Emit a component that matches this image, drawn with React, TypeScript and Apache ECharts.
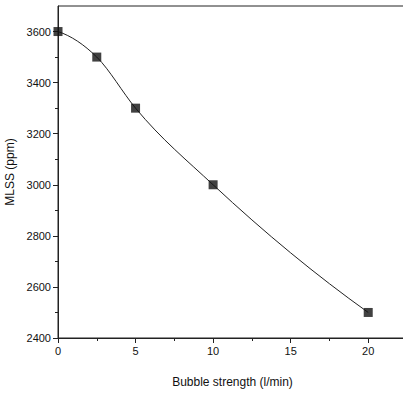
import React, { useEffect, useRef } from "react";
import * as echarts from "echarts";

const bubbleStrength = [0, 2.5, 5, 10, 20];
const mlss = [3600, 3500, 3300, 3000, 2500];
const xTicks = [0, 5, 10, 15, 20];
const yTicks = [2400, 2600, 2800, 3000, 3200, 3400, 3600];

function tangents(xs: number[], ys: number[]): number[] {
  const n = xs.length;
  const h: number[] = [];
  const d: number[] = [];
  for (let i = 0; i < n - 1; i++) {
    h.push(xs[i + 1] - xs[i]);
    d.push((ys[i + 1] - ys[i]) / h[i]);
  }
  const m: number[] = new Array(n);
  m[0] = ((2 * h[0] + h[1]) * d[0] - h[0] * d[1]) / (h[0] + h[1]);
  for (let i = 1; i < n - 1; i++) {
    m[i] = (d[i - 1] * h[i] + d[i] * h[i - 1]) / (h[i - 1] + h[i]);
  }
  const k = n - 2;
  m[n - 1] = ((2 * h[k] + h[k - 1]) * d[k] - h[k] * d[k - 1]) / (h[k - 1] + h[k]);
  return m;
}

export default function App() {
  const ref = useRef<HTMLDivElement>(null);
  useEffect(() => {
    if (!ref.current) return;
    const chart = echarts.init(ref.current, null, { renderer: "svg" });
    const pts = bubbleStrength.map((x, i) => [x, mlss[i]]);
    const m = tangents(bubbleStrength, mlss);
    const font = "'Liberation Sans', Arial, sans-serif";
    chart.setOption({
      animation: false,
      backgroundColor: "#fff",
      grid: {
        left: 58, top: 6, right: -4, bottom: 56,
        containLabel: false, outerBoundsMode: "none",
        show: true, borderColor: "#222", borderWidth: 1,
      },
      xAxis: {
        type: "value",
        min: 0,
        max: 22.5,
        interval: 5,
        name: "Bubble strength (l/min)",
        nameLocation: "middle",
        nameGap: 38,
        nameTextStyle: { fontFamily: font, fontSize: 12, color: "#111", letterSpacing: -0.6 },
        axisLine: { lineStyle: { color: "#222", width: 1 } },
        axisTick: { show: true, inside: false, length: 5, lineStyle: { color: "#222" }, customValues: xTicks },
        minorTick: { show: true, splitNumber: 2, length: 3, lineStyle: { color: "#222" } },
        axisLabel: { fontFamily: font, fontSize: 11, color: "#111", margin: 7, customValues: xTicks, formatter: (v: number) => String(v) },
        splitLine: { show: false },
      },
      yAxis: {
        type: "value",
        min: 2400,
        max: 3700,
        interval: 200,
        name: "MLSS (ppm)",
        nameLocation: "middle",
        nameGap: 34,
        nameTextStyle: { fontFamily: font, fontSize: 12, color: "#111", letterSpacing: -0.6 },
        axisLine: { show: true, lineStyle: { color: "#222", width: 1 } },
        axisTick: { show: true, inside: false, length: 5, lineStyle: { color: "#222" }, customValues: yTicks },
        minorTick: { show: true, splitNumber: 2, length: 3, lineStyle: { color: "#222" } },
        axisLabel: { fontFamily: font, fontSize: 11, color: "#111", margin: 7, customValues: yTicks, letterSpacing: -0.5, formatter: (v: number) => String(v) },
        splitLine: { show: false },
      },
      series: [
        {
          type: "custom",
          data: pts,
          encode: { x: 0, y: 1 },
          z: 2,
          renderItem: (params: any, api: any) => {
            const i = params.dataIndex;
            if (i >= pts.length - 1) return null;
            const x0 = bubbleStrength[i], y0 = mlss[i];
            const x1 = bubbleStrength[i + 1], y1 = mlss[i + 1];
            const h = x1 - x0;
            const p0 = api.coord([x0, y0]);
            const c1 = api.coord([x0 + h / 3, y0 + (m[i] * h) / 3]);
            const c2 = api.coord([x1 - h / 3, y1 - (m[i + 1] * h) / 3]);
            const p1 = api.coord([x1, y1]);
            return {
              type: "bezierCurve",
              shape: { x1: p0[0], y1: p0[1], cpx1: c1[0], cpy1: c1[1], cpx2: c2[0], cpy2: c2[1], x2: p1[0], y2: p1[1] },
              style: { stroke: "#222", lineWidth: 1, fill: "none" },
            };
          },
        },
        {
          type: "scatter",
          data: pts,
          symbol: "rect",
          symbolSize: 9,
          itemStyle: { color: "#111" },
          z: 3,
        },
      ],
    });
    return () => chart.dispose();
  }, []);
  return <div ref={ref} style={{ position: "fixed", left: 0, top: 0, width: 403, height: 394 }} />;
}
